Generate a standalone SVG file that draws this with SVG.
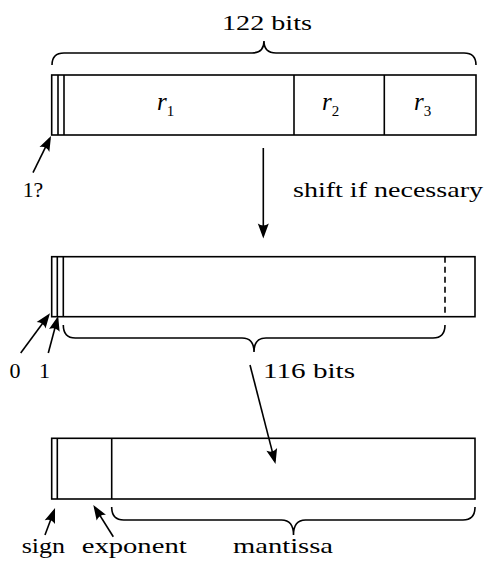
<svg xmlns="http://www.w3.org/2000/svg" width="487" height="565" viewBox="0 0 487 565">
<defs>
<marker id="ah" markerUnits="userSpaceOnUse" markerWidth="30" markerHeight="30" refX="15" refY="15" orient="auto" overflow="visible">
<path d="M18,15 L3,9.5 Q7,15 3,20.5 Z" fill="#000"/>
</marker>
<style>
.b{fill:#fff;stroke:#000;stroke-width:1.6}
.l{fill:none;stroke:#000;stroke-width:1.6}
.a{fill:none;stroke:#000;stroke-width:1.6;marker-end:url(#ah)}
.t{font-family:'Liberation Serif',serif;font-size:22px;fill:#000}
.i{font-style:italic}
.s{font-size:15px}
</style>
</defs>
<rect width="487" height="565" fill="#fff"/>
<g id="top-word">
<rect class="b" x="51.7" y="75" width="424.3" height="60"/>
<line class="l" x1="58" y1="75" x2="58" y2="135"/>
<line class="l" x1="64" y1="75" x2="64" y2="135"/>
<line class="l" x1="294" y1="75" x2="294" y2="135"/>
<line class="l" x1="384.3" y1="75" x2="384.3" y2="135"/>
<text class="t" x="157" y="110"><tspan class="i" font-size="25">r</tspan><tspan class="s" dy="6">1</tspan></text>
<text class="t" x="322" y="110"><tspan class="i" font-size="25">r</tspan><tspan class="s" dy="6">2</tspan></text>
<text class="t" x="414" y="110"><tspan class="i" font-size="25">r</tspan><tspan class="s" dy="6">3</tspan></text>
<path class="l" d="M52,65 Q52,53 64,53 L252,53 Q264,53 264,41 Q264,53 276,53 L464,53 Q476,53 476,65"/>
<text class="t" x="222" y="30" textLength="90" lengthAdjust="spacingAndGlyphs">122 bits</text>
<text class="t" x="22.7" y="197" font-size="23" textLength="20.6" lengthAdjust="spacingAndGlyphs">1?</text>
</g>
<g id="middle-word">
<rect class="b" x="51.7" y="256.7" width="423.3" height="60"/>
<line class="l" x1="57.3" y1="256.7" x2="57.3" y2="316.7"/>
<line class="l" x1="63.3" y1="256.7" x2="63.3" y2="316.7"/>
<line class="l" x1="445" y1="256.7" x2="445" y2="316.7" stroke-dasharray="6,4"/>
<path class="l" d="M63.3,325 Q63.3,338 75.3,338 L242,338 Q254,338 254,352 Q254,338 266,338 L433,338 Q445,338 445,325"/>
<text class="t" x="263" y="378" textLength="92" lengthAdjust="spacingAndGlyphs">116 bits</text>
<text class="t" x="9.5" y="378" font-size="23">0</text>
<text class="t" x="39" y="378" font-size="23">1</text>
</g>
<g id="bottom-word">
<rect class="b" x="51.7" y="438.3" width="423.3" height="60.7"/>
<line class="l" x1="57.3" y1="438.3" x2="57.3" y2="499"/>
<line class="l" x1="111.7" y1="438.3" x2="111.7" y2="499"/>
<path class="l" d="M111.7,507 Q111.7,520 123.7,520 L281.5,520 Q293.5,520 293.5,535 Q293.5,520 305.5,520 L463,520 Q475,520 475,507"/>
<text class="t" x="21.7" y="553" textLength="43.3" lengthAdjust="spacingAndGlyphs">sign</text>
<text class="t" x="81.7" y="553" textLength="105" lengthAdjust="spacingAndGlyphs">exponent</text>
<text class="t" x="233" y="553" textLength="100" lengthAdjust="spacingAndGlyphs">mantissa</text>
</g>
<g id="connectors">
<line class="a" x1="33" y1="172.7" x2="49.7" y2="138.7"/>
<line class="a" x1="263.3" y1="148" x2="263.3" y2="235.5"/>
<text class="t" x="293" y="197" textLength="190" lengthAdjust="spacingAndGlyphs">shift if necessary</text>
<line class="a" x1="20.7" y1="353" x2="48.2" y2="315.7"/>
<line class="a" x1="48.3" y1="353" x2="57.4" y2="318.8"/>
<line class="a" x1="250" y1="365" x2="274.75" y2="461.1"/>
<line class="a" x1="45" y1="535" x2="54" y2="510.8"/>
<line class="a" x1="113.3" y1="536.7" x2="94.9" y2="507.5"/>
</g>
</svg>
